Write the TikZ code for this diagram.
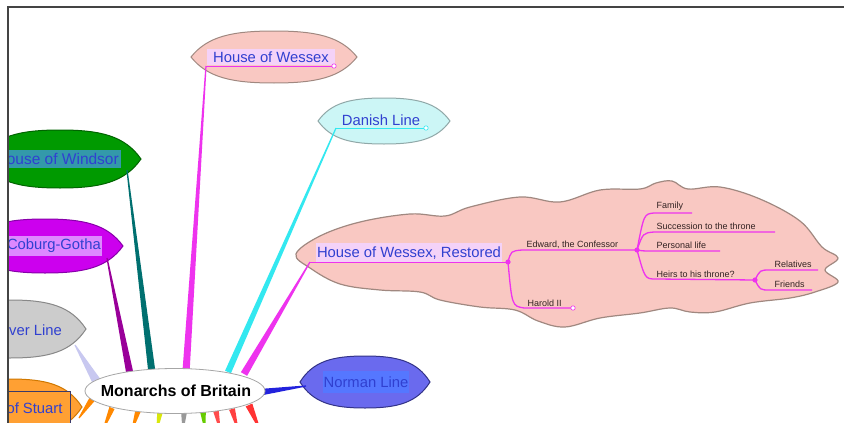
\documentclass[tikz,border=0pt]{standalone}
\usepackage{fontspec}
\setmainfont{Liberation Sans}
\usetikzlibrary{calc}

\definecolor{txtblue}{HTML}{3040D0}
\definecolor{pinkfill}{HTML}{F9C8C2}
\definecolor{pinkedge}{HTML}{A08880}
\definecolor{pinkhl}{HTML}{F4D2F8}
\definecolor{mag}{HTML}{EE33EE}
\definecolor{cyanfill}{HTML}{CCF6F6}
\definecolor{cyanedge}{HTML}{90A8A8}
\definecolor{cyanline}{HTML}{33E8F0}
\definecolor{greenfill}{HTML}{009A00}
\definecolor{greenedge}{HTML}{006400}
\definecolor{tealhl}{HTML}{3399AA}
\definecolor{tealline}{HTML}{007070}
\definecolor{purplefill}{HTML}{CC00EE}
\definecolor{purpleedge}{HTML}{8800AA}
\definecolor{purplehl}{HTML}{DD88FF}
\definecolor{purpleline}{HTML}{990099}
\definecolor{grayfill}{HTML}{CCCCCC}
\definecolor{grayedge}{HTML}{888888}
\definecolor{lavline}{HTML}{C8C8F0}
\definecolor{orangefill}{HTML}{FFA033}
\definecolor{orangeedge}{HTML}{D07800}
\definecolor{orangeline}{HTML}{FF8800}
\definecolor{boxedge}{HTML}{3A3A6A}
\definecolor{normfill}{HTML}{6A6AEE}
\definecolor{normedge}{HTML}{333388}
\definecolor{normhl}{HTML}{5577FF}
\definecolor{normline}{HTML}{2222DD}
\definecolor{smalltxt}{HTML}{332222}
\definecolor{framecol}{HTML}{444444}

% leaf-shaped balloon: style, cx, cy, rx, ry
\newcommand\leafshape[5]{%
  \draw[#1] (#2-#4,#3)
    .. controls (#2-0.8*#4,#3-0.8*#5) and (#2-0.5*#4,#3-#5) .. (#2,#3-#5)
    .. controls (#2+0.5*#4,#3-#5) and (#2+0.8*#4,#3-0.8*#5) .. (#2+#4,#3)
    .. controls (#2+0.8*#4,#3+0.8*#5) and (#2+0.5*#4,#3+#5) .. (#2,#3+#5)
    .. controls (#2-0.5*#4,#3+#5) and (#2-0.8*#4,#3+0.8*#5) .. (#2-#4,#3) -- cycle;}

% tapered branch: colour, thin end, thick end, half width at thick end
\newcommand\branch[4]{%
  \fill[#1] ($(#2)!0.6pt!90:(#3)$) -- ($(#3)!#4!-90:(#2)$)
    -- ($(#3)!#4!90:(#2)$) -- ($(#2)!0.6pt!-90:(#3)$) -- cycle;}

\tikzset{
  lbl/.style={font=\fontsize{14.8}{16}\selectfont, text=txtblue, inner xsep=1pt, inner ysep=3pt},
  small/.style={font=\fontsize{9}{10}\selectfont, text=smalltxt, inner sep=0.5pt, anchor=south west},
  uline/.style={mag, line width=0.9pt},
  fork/.style={mag, line width=1.3pt},
  endmark/.style={fill=white, line width=0.6pt},
}

\begin{document}
\begin{tikzpicture}[x=1pt,y=-1pt]
\useasboundingbox (0,0) rectangle (844,423);
\fill[white] (0,0) rectangle (844,423);

\begin{scope}
\clip (8.5,7.5) rectangle (844,423);

% ---- balloons ----
\leafshape{fill=pinkfill, draw=pinkedge, line width=1pt}{274}{57}{83}{26}
\leafshape{fill=cyanfill, draw=cyanedge, line width=1pt}{384}{121}{66}{23}
\leafshape{fill=greenfill, draw=greenedge, line width=1pt}{60}{159}{81}{29}
\leafshape{fill=purplefill, draw=purpleedge, line width=1pt}{45}{246}{78}{27}
\leafshape{fill=grayfill, draw=grayedge, line width=1pt}{10}{329}{76}{29}
\leafshape{fill=orangefill, draw=orangeedge, line width=1pt}{10}{407}{72}{28}
\leafshape{fill=normfill, draw=normedge, line width=1pt}{365}{382}{65}{26}

% cloud around the restored line
\draw[fill=pinkfill, draw=pinkedge, line width=1.2pt] plot[smooth cycle, tension=0.6] coordinates {
  (296,254) (320,236) (360,222) (410,214) (445,216) (470,207) (520,197)
  (560,202) (600,190) (640,189) (656,183) (672,181) (688,189) (720,187)
  (760,199) (800,221) (822,247) (838,258) (825,270) (838,282) (815,292)
  (790,298) (750,303) (715,312) (690,312) (670,308) (640,313) (600,318)
  (565,327) (538,321) (515,310) (480,307) (440,300) (420,292) (380,290)
  (340,284) (310,268)};

% ---- text labels ----
\node[lbl, fill=pinkhl, minimum width=128pt] (wessex) at (271,57) {House of Wessex};
\node[lbl, fill=cyanfill] (danish) at (381,120) {Danish Line};
\node[lbl, fill=tealhl, anchor=east, inner xsep=2pt, font=\fontsize{15.5}{17}\selectfont] (windsor) at (121,159) {House of Windsor};
\node[lbl, fill=purplehl, anchor=east] (coburg) at (102,246) {Saxe-Coburg-Gotha};
\node[lbl, anchor=east] (hanover) at (63,330) {Hanover Line};
\node[lbl, fill=orangefill, draw=boxedge, line width=1pt, anchor=east, minimum height=34pt,
      inner xsep=8pt, inner ysep=4pt] (stuart) at (71,408) {House of Stuart};
\node[lbl, fill=normhl, minimum height=22pt] (norman) at (366,382) {Norman Line};
\node[lbl, fill=pinkhl, minimum height=20pt] (restored) at (409,253) {House of Wessex, Restored};

% ---- junction points of the branches ----
\coordinate (wsx-j) at (206,66);   \coordinate (wsx-e) at (334,66);
\coordinate (dan-j) at (336,128);  \coordinate (dan-e) at (426,128);
\coordinate (res-j) at (310,262);  \coordinate (res-e) at (508,262);
\coordinate (win-j) at (127,170);
\coordinate (cob-j) at (107,258);
\coordinate (han-j) at (75,345);
\coordinate (stu-j) at (79,418);
\coordinate (nor-j) at (306,386);

% root anchors
\coordinate (r-wsx) at (186,372);
\coordinate (r-dan) at (228,372);
\coordinate (r-res) at (244,374);
\coordinate (r-win) at (152,373);
\coordinate (r-cob) at (130,374);
\coordinate (r-han) at (97,382);
\coordinate (r-stu) at (93,398);
\coordinate (r-nor) at (262,392);

% ---- branches to the root ----
\branch{mag}{wsx-j}{r-wsx}{3.6pt}
\branch{cyanline}{dan-j}{r-dan}{3.2pt}
\branch{mag}{res-j}{r-res}{3.6pt}
\branch{tealline}{win-j}{r-win}{3.6pt}
\branch{purpleline}{cob-j}{r-cob}{3.6pt}
\branch{lavline}{han-j}{r-han}{4.5pt}
\branch{orangeline}{stu-j}{r-stu}{3.2pt}
\branch{normline}{nor-j}{r-nor}{3.2pt}

% branches leaving the root downward
\coordinate (d1a) at (112,408); \coordinate (d1b) at (103,430);
\coordinate (d2a) at (138,411); \coordinate (d2b) at (132,430);
\coordinate (d3a) at (160,412); \coordinate (d3b) at (157,430);
\coordinate (d4a) at (184,413); \coordinate (d4b) at (183,430);
\coordinate (d5a) at (203,412); \coordinate (d5b) at (205,430);
\coordinate (d6a) at (216,411); \coordinate (d6b) at (220,430);
\coordinate (d7a) at (232,409); \coordinate (d7b) at (238,430);
\coordinate (d8a) at (249,405); \coordinate (d8b) at (260,430);
\branch{orangeline}{d1b}{d1a}{2.8pt}
\branch{orangeline}{d2b}{d2a}{2.8pt}
\branch{yellow!85!green}{d3b}{d3a}{2.8pt}
\branch{gray!80}{d4b}{d4a}{2.8pt}
\branch{green!50!yellow!80!black}{d5b}{d5a}{2.8pt}
\branch{red!70}{d6b}{d6a}{2.8pt}
\branch{red!75}{d7b}{d7a}{3pt}
\branch{red!80}{d8b}{d8a}{3.6pt}

% underlines of the labels
\draw[uline] (wsx-j) -- (wsx-e);
\draw[endmark, draw=mag] (wsx-e) circle (2.2);
\draw[cyanline, line width=0.9pt] (dan-j) -- (dan-e);
\draw[endmark, draw=cyanline] (dan-e) circle (2.2);
\draw[uline] (res-j) -- (res-e);

% ---- root ----
\draw[draw=gray!70, fill=white, line width=0.8pt] (175,391) ellipse (90 and 22.5);
\node[font=\bfseries\fontsize{16}{18}\selectfont, text=black] (root) at (176,391) {Monarchs of Britain};

% ---- sub topics inside the cloud ----
\coordinate (edw-j) at (637,250);
\coordinate (hei-j) at (755,280);

\node[small] (edward) at (526,249) {Edward, the Confessor};
\node[small] (harold) at (527,307) {Harold II};
\node[small] (family) at (656,211.5) {Family};
\node[small] (succ) at (656,230.5) {Succession to the throne};
\node[small] (personal) at (656,249.5) {Personal life};
\node[small] (heirs) at (656,278) {Heirs to his throne?};
\node[small] (relatives) at (774,268.5) {Relatives};
\node[small] (friends) at (774,288.5) {Friends};

% forks from the restored line
\draw[fork] (res-e) .. controls (511,251) .. (522,250) -- (edw-j);
\draw[fork] (res-e) .. controls (512,306) .. (524,308) -- (570.8,308);
\draw[endmark, draw=mag] (573,308) circle (2.2);
\fill[mag] (res-e) circle (2.6);

% forks from Edward
\draw[fork] (edw-j) .. controls (644,214) .. (654,213) -- (692,213);
\draw[fork] (edw-j) .. controls (643,233) .. (654,232) -- (775,232);
\draw[fork] (edw-j) .. controls (643,251) .. (654,251) -- (720,251);
\draw[fork] (edw-j) .. controls (645,279) .. (656,279) -- (hei-j);
\fill[mag] (edw-j) circle (2.6);

% forks from the heirs question
\draw[fork] (hei-j) .. controls (760,270) .. (770,270) -- (818,270);
\draw[fork] (hei-j) .. controls (760,290) .. (770,290) -- (812,290);
\fill[mag] (hei-j) circle (2.6);
\end{scope}

% window frame
\draw[framecol, line width=1.2pt] (8,423) -- (8,7) -- (844,7);
\end{tikzpicture}
\end{document}
